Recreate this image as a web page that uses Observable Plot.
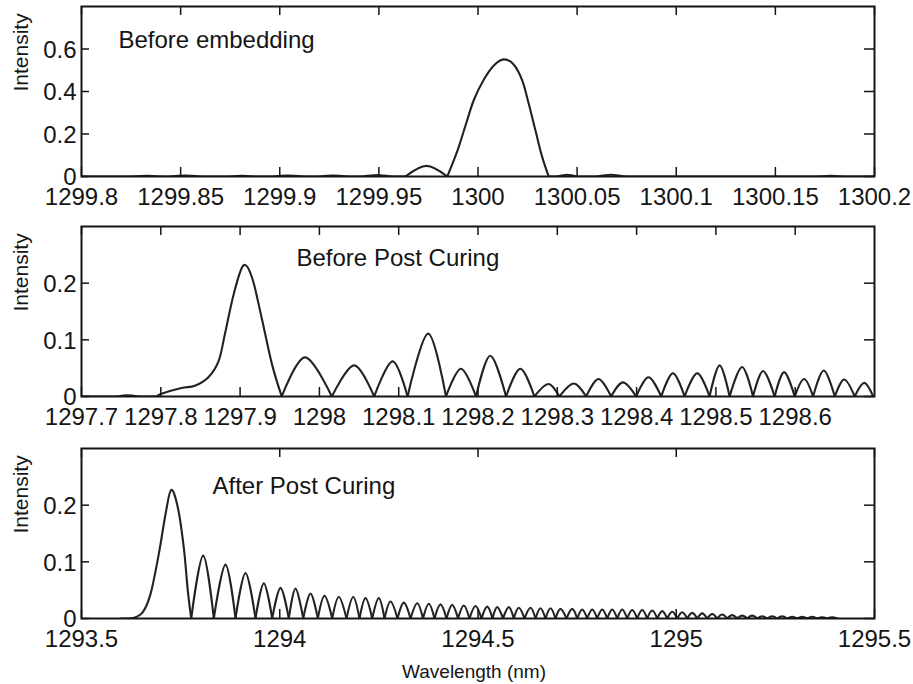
<!DOCTYPE html>
<html>
<head>
<meta charset="utf-8">
<script src="https://cdn.jsdelivr.net/npm/d3@7"></script>
<script src="https://cdn.jsdelivr.net/npm/@observablehq/plot@0.6"></script>
<style>
  body { margin: 0; background: #fff; }
  #chart svg { display: block; }
</style>
</head>
<body>
<div id="chart"></div>
<script>
// ---------- Panel 1: Before embedding ----------
const embedWavelength = [
  1299.800, 1299.825, 1299.833, 1299.840, 1299.845, 1299.852, 1299.860, 1299.875, 1299.881, 1299.887,
  1299.897, 1299.904, 1299.912, 1299.920, 1299.927, 1299.934, 1299.942, 1299.949, 1299.956, 1299.9634,
  1299.974, 1299.9845, 1299.9895, 1299.9937, 1299.9979, 1300.0029, 1300.008, 1300.013, 1300.018, 1300.0223,
  1300.0256, 1300.029, 1300.0324, 1300.0357, 1300.040, 1300.045, 1300.050, 1300.060, 1300.067, 1300.074,
  1300.172, 1300.178, 1300.184, 1300.200
];
const embedIntensity = [
  0, 0, 0.003, 0, 0, 0.004, 0, 0, 0.003, 0,
  0, 0.005, 0, 0, 0.004, 0, 0, 0.007, 0, 0,
  0.050, 0, 0.118, 0.240, 0.360, 0.455, 0.522, 0.551, 0.527, 0.452,
  0.342, 0.216, 0.091, 0, 0, 0.008, 0, 0, 0.008, 0,
  0, 0.003, 0, 0
];
const embedXTicks = [1299.8, 1299.85, 1299.9, 1299.95, 1300, 1300.05, 1300.1, 1300.15, 1300.2];
const embedYTicks = [0, 0.2, 0.4, 0.6];

// ---------- Panel 2: Before Post Curing ----------
const preCureWavelength = [
  1297.700, 1297.745, 1297.758, 1297.772, 1297.795, 1297.801, 1297.826, 1297.843, 1297.860, 1297.873,
  1297.881, 1297.892, 1297.904, 1297.915, 1297.927, 1297.940, 1297.9525,
  1297.9819, 1298.0157, 1298.0438, 1298.0691, 1298.0923, 1298.1112, 1298.1372, 1298.1596, 1298.1785, 1298.1975,
  1298.2155, 1298.2354, 1298.2534, 1298.2711, 1298.2888, 1298.3027, 1298.3208, 1298.3364, 1298.3519, 1298.3679,
  1298.3827, 1298.3995, 1298.415, 1298.4311, 1298.4458, 1298.4605, 1298.4765, 1298.492, 1298.5047, 1298.5173,
  1298.533, 1298.5468, 1298.5595, 1298.5741, 1298.586, 1298.5994, 1298.6112, 1298.6226, 1298.636, 1298.6499,
  1298.6617, 1298.6751, 1298.687, 1298.6984
];
const preCureIntensity = [
  0, 0, 0.002, 0, 0, 0.005, 0.015, 0.019, 0.034, 0.063,
  0.111, 0.181, 0.231, 0.210, 0.140, 0.058, 0,
  0.069, 0, 0.055, 0, 0.062, 0, 0.111, 0, 0.049, 0,
  0.072, 0, 0.049, 0, 0.022, 0, 0.023, 0, 0.031, 0,
  0.025, 0, 0.034, 0, 0.041, 0, 0.041, 0, 0.055, 0,
  0.052, 0, 0.045, 0, 0.043, 0, 0.031, 0, 0.046, 0,
  0.030, 0, 0.024, 0
];
const preCureXTicks = [1297.7, 1297.8, 1297.9, 1298, 1298.1, 1298.2, 1298.3, 1298.4, 1298.5, 1298.6];
const preCureYTicks = [0, 0.1, 0.2];

// ---------- Panel 3: After Post Curing ----------
const postCureWavelength = [
  1293.600, 1293.6236, 1293.6531, 1293.674, 1293.695, 1293.7119, 1293.7262, 1293.7429, 1293.758, 1293.7681, 1293.7767,
  1293.8069, 1293.8337, 1293.8632, 1293.8884, 1293.9136, 1293.9388, 1293.9598, 1293.9810,
  1294.0019, 1294.0228, 1294.0397, 1294.0592, 1294.0776, 1294.0960, 1294.1129, 1294.1323,
  1294.1489, 1294.1684, 1294.1853, 1294.2011, 1294.2163, 1294.2332, 1294.2498, 1294.2642,
  1294.2793, 1294.2970, 1294.3129, 1294.3298, 1294.3467, 1294.3613, 1294.3759, 1294.3903,
  1294.4054, 1294.4206, 1294.4349, 1294.4496, 1294.4642, 1294.4786, 1294.4937, 1294.5088,
  1294.5232, 1294.5366, 1294.5484, 1294.5631, 1294.5777, 1294.5903, 1294.6029, 1294.6173,
  1294.6324, 1294.6450, 1294.6576, 1294.6702, 1294.6829, 1294.6955, 1294.7081, 1294.7232,
  1294.7376, 1294.7502, 1294.7628, 1294.7754, 1294.7880, 1294.8006, 1294.8133, 1294.8259,
  1294.8385, 1294.8511, 1294.8637, 1294.8763, 1294.8889, 1294.9015, 1294.9141, 1294.9267,
  1294.9394, 1294.9520, 1294.9646, 1294.9772, 1294.9898, 1295.0024, 1295.0150, 1295.0276,
  1295.0402, 1295.0529, 1295.0655, 1295.0781, 1295.0907, 1295.1033, 1295.1159, 1295.1285,
  1295.1411, 1295.1537, 1295.1664, 1295.1790, 1295.1916, 1295.2042, 1295.2168, 1295.2294,
  1295.2420, 1295.2546, 1295.2672, 1295.2798, 1295.2925, 1295.3051, 1295.3177, 1295.3303,
  1295.3429, 1295.3555, 1295.3681, 1295.3807, 1295.3933, 1295.4059
];
const postCureIntensity = [
  0, 0, 0.010, 0.043, 0.114, 0.184, 0.227, 0.196, 0.125, 0.049, 0,
  0.111, 0, 0.095, 0, 0.080, 0, 0.062, 0,
  0.054, 0, 0.053, 0, 0.044, 0, 0.040, 0,
  0.038, 0, 0.038, 0, 0.036, 0, 0.036, 0,
  0.030, 0, 0.028, 0, 0.027, 0, 0.026, 0,
  0.025, 0, 0.024, 0, 0.023, 0, 0.022, 0,
  0.021, 0, 0.020, 0, 0.020, 0, 0.019, 0,
  0.019, 0, 0.018, 0, 0.018, 0, 0.017, 0,
  0.017, 0, 0.016, 0, 0.016, 0, 0.016, 0,
  0.016, 0, 0.016, 0, 0.015, 0, 0.015, 0,
  0.014, 0, 0.013, 0, 0.012, 0, 0.011, 0,
  0.010, 0, 0.009, 0, 0.008, 0, 0.007, 0,
  0.006, 0, 0.005, 0, 0.005, 0, 0.004, 0,
  0.004, 0, 0.004, 0, 0.003, 0, 0.003, 0,
  0.003, 0, 0.002, 0, 0.002, 0
];
const postCureXTicks = [1293.5, 1294, 1294.5, 1295, 1295.5];
const postCureYTicks = [0, 0.1, 0.2];

const panelTitles = ["Before embedding", "Before Post Curing", "After Post Curing"];
const yLabel = "Intensity";
const xLabel = "Wavelength (nm)";

// Split a spectrum at its zero points so each lobe is drawn as its own smooth arch
function toSegments(wl, val) {
  const rows = [];
  let seg = 0;
  for (let i = 0; i < wl.length; i++) {
    rows.push({x: wl[i], y: val[i], seg});
    if (val[i] === 0 && i > 0 && i < wl.length - 1) {
      seg++;
      rows.push({x: wl[i], y: val[i], seg});
    }
  }
  return rows;
}

const W = 913, mL = 81, mR = 39, plotH = 170, plotW = W - mL - mR;
const ink = "#151515";
const font = "'Liberation Sans', Arial, Helvetica, sans-serif";

function panel(o) {
  const marks = [
    Plot.line(toSegments(o.wl, o.val), {
      x: "x", y: "y", z: "seg", curve: "cardinal", tension: 0, clip: true,
      stroke: "#222", strokeWidth: 2.1, strokeLinejoin: "round"
    }),
    Plot.ruleX(o.xTicks, {stroke: ink, strokeWidth: 1.5, insetTop: plotH - 9}),
    Plot.ruleX(o.xTicks, {stroke: ink, strokeWidth: 1.5, insetBottom: plotH - 9}),
    Plot.ruleY(o.yTicks, {stroke: ink, strokeWidth: 1.5, insetRight: plotW - 8}),
    Plot.ruleY(o.yTicks, {stroke: ink, strokeWidth: 1.5, insetLeft: plotW - 10}),
    Plot.frame({stroke: ink, strokeWidth: 2}),
    Plot.axisX(o.xTicks, {
      tickSize: 0, tickPadding: 11, label: null, fontSize: 24, fill: ink,
      tickFormat: o.fmt
    }),
    Plot.axisY(o.yTicks, {
      tickSize: 0, tickPadding: 5, label: null, fontSize: 24, fill: ink, dy: 1,
      tickFormat: d => String(d)
    }),
    Plot.text([o.title], {
      frameAnchor: "top-left", textAnchor: "start", lineAnchor: "bottom",
      dx: o.titleDx, dy: o.titleDy, fontSize: 24, fill: ink
    }),
    Plot.text([yLabel], {
      frameAnchor: "left", rotate: -90, dx: -60, fontSize: 21, fill: ink
    })
  ];
  if (o.xLabel) {
    marks.push(Plot.text([o.xLabel], {
      frameAnchor: "bottom", lineAnchor: "bottom", dx: -4, dy: 59, fontSize: 19, fill: ink
    }));
  }
  return Plot.plot({
    width: W,
    height: o.height,
    marginLeft: mL,
    marginRight: mR,
    marginTop: o.mT,
    marginBottom: o.height - o.mT - plotH,
    x: {domain: o.xDomain},
    y: {domain: o.yDomain},
    style: {fontFamily: font, background: "#fff", overflow: "visible", color: ink},
    marks
  });
}

const fmt2 = d => String(Math.round(d * 100) / 100);
const fmt1 = d => String(Math.round(d * 10) / 10);

const chart = document.getElementById("chart");
chart.append(panel({
  wl: embedWavelength, val: embedIntensity, xTicks: embedXTicks, yTicks: embedYTicks,
  xDomain: [1299.8, 1300.2], yDomain: [0, 0.8], fmt: fmt2,
  title: panelTitles[0], titleDx: 37, titleDy: 41, height: 220, mT: 6
}));
chart.append(panel({
  wl: preCureWavelength, val: preCureIntensity, xTicks: preCureXTicks, yTicks: preCureYTicks,
  xDomain: [1297.7, 1298.7], yDomain: [0, 0.3], fmt: fmt1,
  title: panelTitles[1], titleDx: 215, titleDy: 39, height: 220, mT: 6
}));
chart.append(panel({
  wl: postCureWavelength, val: postCureIntensity, xTicks: postCureXTicks, yTicks: postCureYTicks,
  xDomain: [1293.5, 1295.5], yDomain: [0, 0.3], fmt: fmt1,
  title: panelTitles[2], titleDx: 131, titleDy: 45, height: 244, mT: 8, xLabel
}));
</script>
</body>
</html>
